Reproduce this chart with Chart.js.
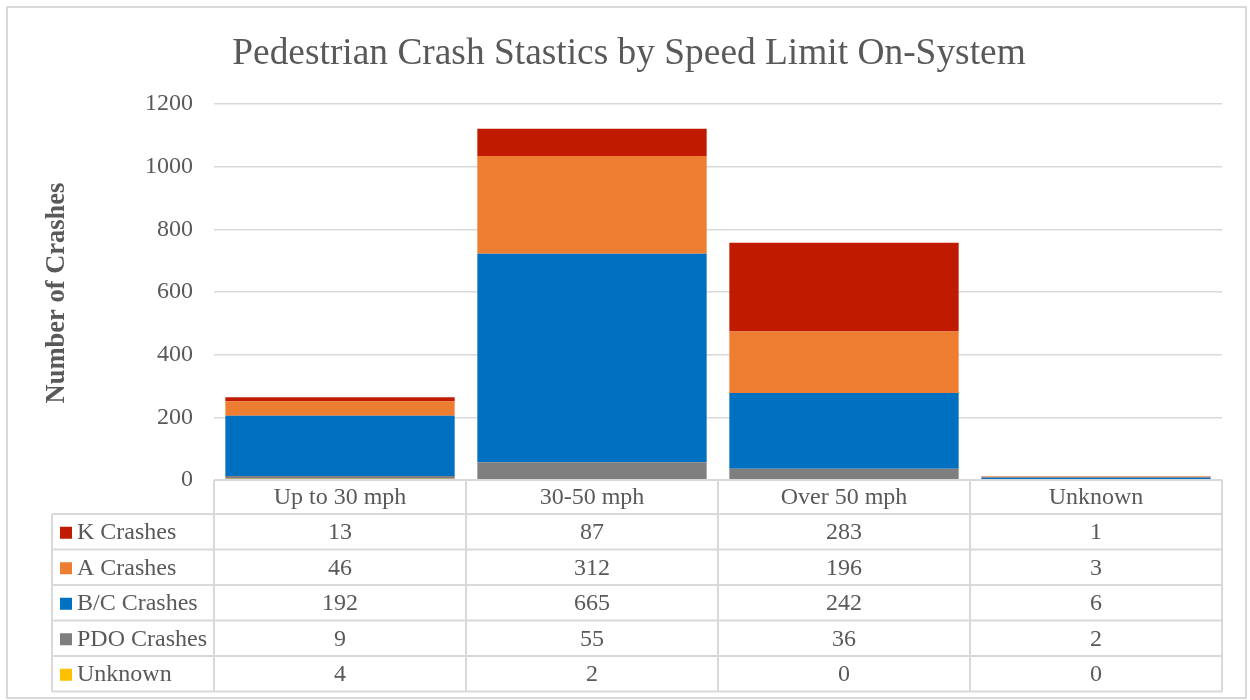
<!DOCTYPE html>
<html>
<head>
<meta charset="utf-8">
<script src="https://cdn.jsdelivr.net/npm/chart.js@4/dist/chart.umd.min.js"></script>
<style>
  html, body { margin: 0; padding: 0; background: #fff; }
  #wrap { width: 1250px; height: 700px; position: relative; }
</style>
</head>
<body>
<div id="wrap"><canvas id="crashChart"></canvas></div>
<script>
// --- data ---
const categories = ['Up to 30 mph', '30-50 mph', 'Over 50 mph', 'Unknown'];
const kCrashes = [13, 87, 283, 1];
const aCrashes = [46, 312, 196, 3];
const bcCrashes = [192, 665, 242, 6];
const pdoCrashes = [9, 55, 36, 2];
const unknownCrashes = [4, 2, 0, 0];
const yTicks = [0, 200, 400, 600, 800, 1000, 1200];

// table rows top to bottom; stack is drawn bottom to top in reverse
const series = [
    { label: 'K Crashes', data: kCrashes, color: '#C01B00' },
    { label: 'A Crashes', data: aCrashes, color: '#ED7D31' },
    { label: 'B/C Crashes', data: bcCrashes, color: '#0070C0' },
    { label: 'PDO Crashes', data: pdoCrashes, color: '#7F7F7F' },
    { label: 'Unknown', data: unknownCrashes, color: '#FFC000' }
];

const FONT = '"Liberation Serif", "Times New Roman", serif';
const TEXT = '#595959';
const LINE = '#d9d9d9';

// title, axis title, outer frame and the data table under the plot
const tablePlugin = {
    id: 'dataTable',
    beforeDraw(chart) {
        const ctx = chart.ctx;
        ctx.save();
        ctx.fillStyle = '#fff';
        ctx.fillRect(0, 0, chart.width, chart.height);
        ctx.restore();
    },
    afterDraw(chart) {
        const ctx = chart.ctx;
        const area = chart.chartArea;
        const x = chart.scales.x;
        const n = categories.length;
        const band = (area.right - area.left) / n;
        const headTop = area.bottom;
        const headH = 34;
        const rowH = 35.5;
        const legLeft = 52;

        ctx.save();
        // outer frame
        ctx.strokeStyle = LINE;
        ctx.lineWidth = 2;
        ctx.strokeRect(7, 7, 1239, 691);

        // title
        ctx.fillStyle = TEXT;
        ctx.font = '37.4px ' + FONT;
        ctx.textAlign = 'center';
        ctx.textBaseline = 'alphabetic';
        ctx.fillText('Pedestrian Crash Stastics by Speed Limit On-System', 629, 64);

        // y axis title
        ctx.save();
        ctx.translate(57, 293);
        ctx.rotate(-Math.PI / 2);
        ctx.font = 'bold 26.5px ' + FONT;
        ctx.textBaseline = 'middle';
        ctx.fillText('Number of Crashes', 0, 0);
        ctx.restore();

        // table grid
        const tableBottom = headTop + headH + rowH * series.length;
        ctx.strokeStyle = LINE;
        ctx.lineWidth = 2;
        ctx.beginPath();
        // header row
        ctx.moveTo(area.left, headTop);
        ctx.lineTo(area.right, headTop);
        // row lines
        for (let r = 0; r <= series.length; r++) {
            const yy = headTop + headH + r * rowH;
            ctx.moveTo(legLeft, yy);
            ctx.lineTo(area.right, yy);
        }
        // column lines
        for (let c = 0; c <= n; c++) {
            const xx = area.left + c * band;
            ctx.moveTo(xx, headTop);
            ctx.lineTo(xx, tableBottom);
        }
        ctx.moveTo(legLeft, headTop + headH);
        ctx.lineTo(legLeft, tableBottom);
        ctx.stroke();

        // header labels
        ctx.font = '24px ' + FONT;
        ctx.fillStyle = TEXT;
        ctx.textAlign = 'center';
        ctx.textBaseline = 'middle';
        categories.forEach((cat, i) => {
            ctx.fillText(cat, x.getPixelForValue(i), headTop + headH / 2 + 1);
        });

        // rows
        series.forEach((s, r) => {
            const cy = headTop + headH + r * rowH + rowH / 2 + 1;
            ctx.fillStyle = s.color;
            ctx.fillRect(60, cy - 6, 12, 12);
            ctx.fillStyle = TEXT;
            ctx.textAlign = 'left';
            ctx.fillText(s.label, 77, cy);
            ctx.textAlign = 'center';
            s.data.forEach((v, i) => {
                ctx.fillText(String(v), x.getPixelForValue(i), cy);
            });
        });
        ctx.restore();
    }
};

const datasets = series.slice().reverse().map(s => ({
    label: s.label,
    data: s.data,
    backgroundColor: s.color,
    borderWidth: 0,
    barPercentage: 0.91,
    categoryPercentage: 1.0
}));

const crashCtx = document.getElementById('crashChart').getContext('2d');
const crashChart = new Chart(crashCtx, {
    type: 'bar',
    data: { labels: categories, datasets: datasets },
    options: {
        responsive: true,
        maintainAspectRatio: false,
        animation: false,
        layout: { padding: { top: 104, right: 28, bottom: 220, left: 0 } },
        plugins: {
            legend: { display: false },
            title: { display: false },
            tooltip: { enabled: false }
        },
        scales: {
            x: {
                display: false,
                stacked: true
            },
            y: {
                stacked: true,
                min: yTicks[0],
                max: yTicks[yTicks.length - 1],
                afterFit(scale) { scale.width = 214; },
                afterBuildTicks(scale) { scale.ticks = yTicks.map(v => ({ value: v })); },
                border: { display: false },
                grid: { color: LINE, lineWidth: 1.5, drawTicks: false },
                ticks: {
                    padding: 21,
                    color: TEXT,
                    font: { family: FONT, size: 24 },
                    callback: v => String(v)
                }
            }
        }
    },
    plugins: [tablePlugin]
});
</script>
</body>
</html>
